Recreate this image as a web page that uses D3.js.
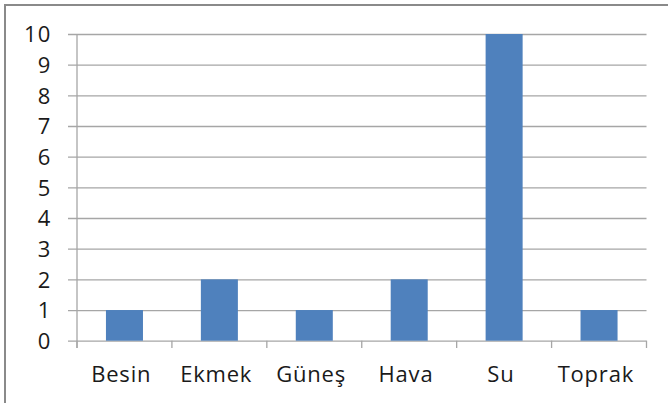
<!DOCTYPE html>
<html><head><meta charset="utf-8">
<script src="https://cdn.jsdelivr.net/npm/d3@7"></script>
<style>body{margin:0;background:#fff}svg{display:block}</style>
</head><body>
<script>
const categories = ["Besin","Ekmek","Güneş","Hava","Su","Toprak"];
const values = [1,2,1,2,10,1];
const yTicks = [0,1,2,3,4,5,6,7,8,9,10];

const W = 668, H = 403;
const svg = d3.select("body").append("svg").attr("width", W).attr("height", H);
svg.append("rect").attr("width", W).attr("height", H).attr("fill", "#fff");
// outer border (right/bottom cut off)
svg.append("rect").attr("x", 5).attr("y", 5).attr("width", W + 10).attr("height", H + 10)
  .attr("fill", "none").attr("stroke", "#8a8a8a").attr("stroke-width", 2);

const x = d3.scaleBand().domain(categories).range([77, 646.5]).paddingInner(0.61).paddingOuter(0.305);
const y = d3.scaleLinear().domain([0, 10]).range([340.7, 34]);
const font = "'Open Sans', sans-serif";

// gridlines + y axis
const ya = svg.append("g").attr("transform", "translate(77,0)")
  .call(d3.axisLeft(y).tickValues(yTicks).tickSize(-569.5).tickSizeOuter(0).tickPadding(0).tickFormat(d3.format("d")));
ya.select(".domain").remove();
ya.selectAll(".tick line").attr("stroke", "#a6a6a6").attr("x1", -9).attr("stroke-width", 1.3);
ya.selectAll(".tick text").attr("x", -25.5).attr("font-family", font).attr("font-size", 22)
  .attr("letter-spacing", "1.2px").attr("fill", "#1a1a1a").attr("dy", "0.36em");
svg.append("line").attr("x1", 77).attr("x2", 77).attr("y1", 34).attr("y2", 348).attr("stroke", "#a6a6a6").attr("stroke-width", 1.3);

// category ticks
const step = x.step();
const tickXs = d3.range(categories.length + 1).map(i => 77 + i * step);
svg.selectAll(".ctick").data(tickXs).join("line").attr("class", "ctick")
  .attr("x1", d => d).attr("x2", d => d).attr("y1", 340.7).attr("y2", 348)
  .attr("stroke", "#a6a6a6").attr("stroke-width", 1.3);

// bars
svg.selectAll(".bar").data(categories).join("rect").attr("class", "bar")
  .attr("x", d => x(d)).attr("width", x.bandwidth())
  .attr("y", (d, i) => y(values[i])).attr("height", (d, i) => y(0) - y(values[i]))
  .attr("fill", "#4f81bd");

// category labels
svg.selectAll(".clabel").data(categories).join("text").attr("class", "clabel")
  .attr("x", d => x(d) + x.bandwidth() / 2 - 3.2).attr("y", 382)
  .attr("text-anchor", "middle").attr("font-family", font).attr("font-size", 22)
  .attr("letter-spacing", "0.8px").attr("fill", "#1a1a1a")
  .text(d => d);
</script>
</body></html>
